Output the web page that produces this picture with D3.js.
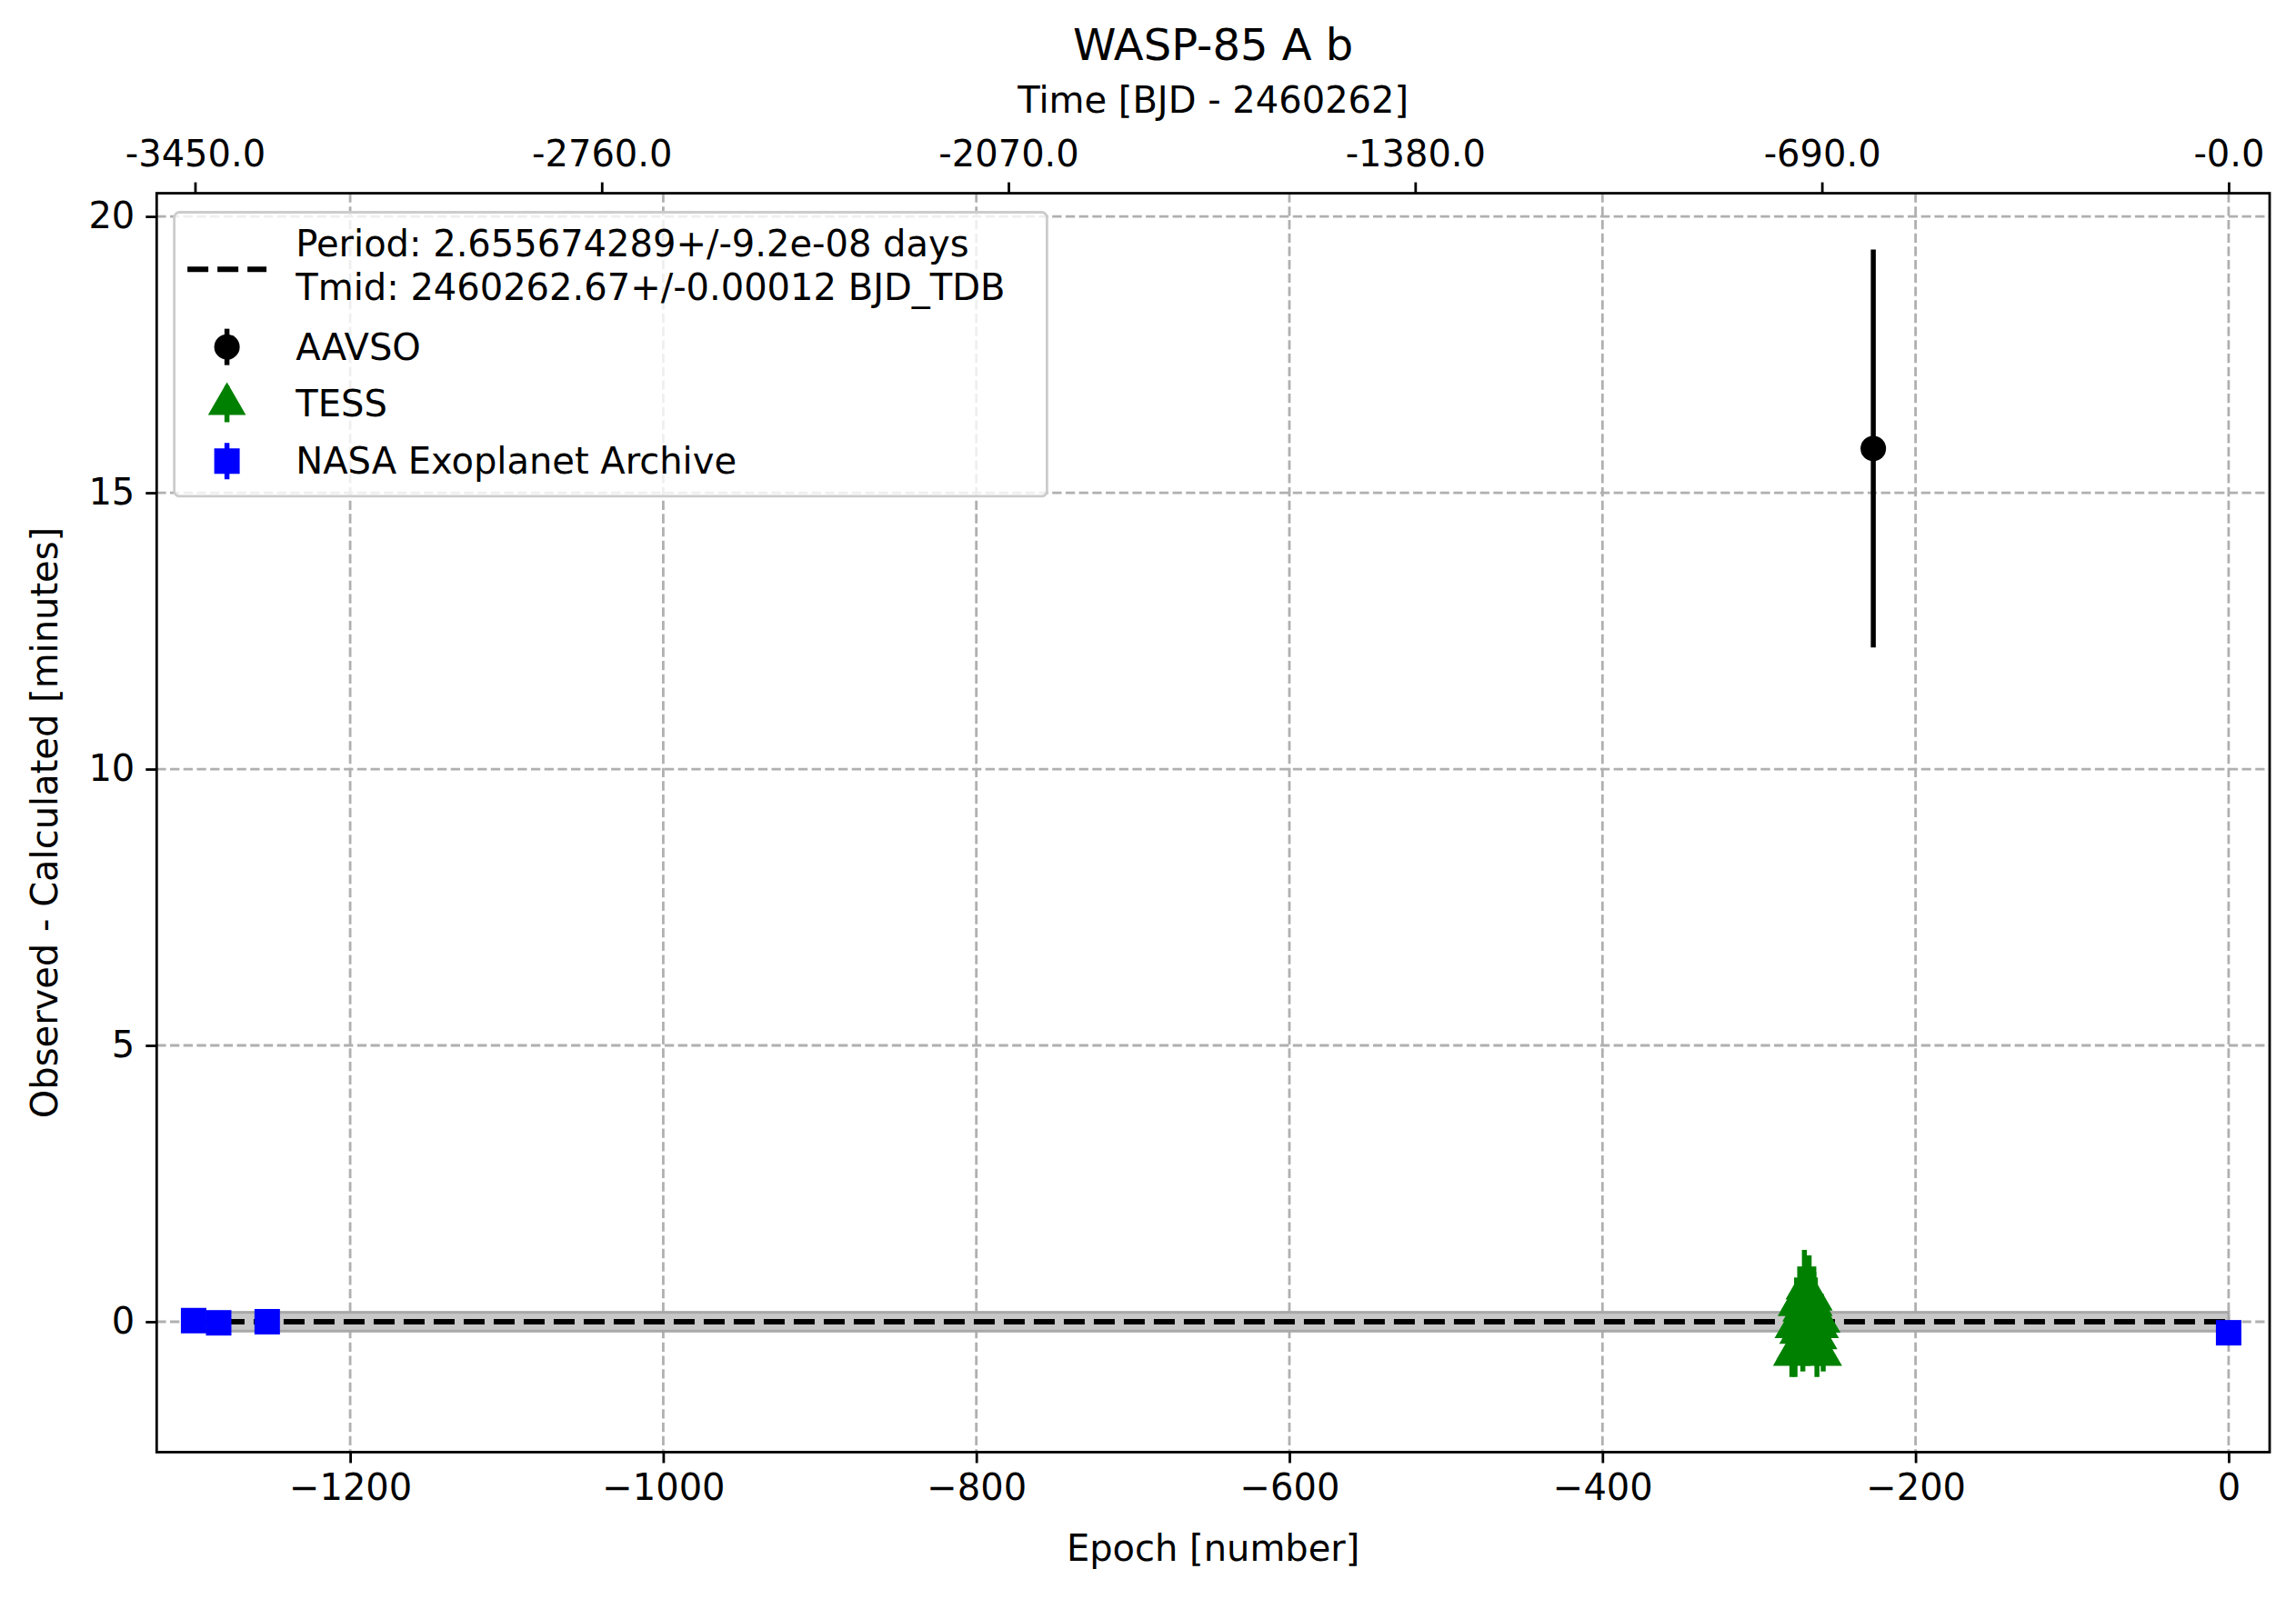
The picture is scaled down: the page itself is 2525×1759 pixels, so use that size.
<!DOCTYPE html>
<html><head><meta charset="utf-8">
<script src="https://cdn.jsdelivr.net/npm/d3@7"></script>
<style>body{margin:0;background:#fff}svg{font-family:"DejaVu Sans",sans-serif}</style>
</head><body>
<svg id="c" width="2525" height="1759"></svg>
<script>
const period = 2.655674289;
const aavsoEpoch = [-227], aavsoOC = [15.8], aavsoErr = [3.6];
const tessEpoch = [-279,-278,-277,-276,-275,-274,-273,-272,-271,-270,-269,-268,-267,-266,-265,-264,-263,-262,-261,-260,-259,-273,-268,-265];
const tessOC    = [-0.6,-0.1,-0.5,0.3,-0.2,0.4,0.1,-0.3,0.6,0.2,-0.1,0.5,0.3,-0.2,0.4,0.1,-0.5,-0.3,-0.1,0.0,-0.6,0.2,0.0,0.3];
const tessErr   = [0.4,0.4,0.5,0.5,0.5,0.6,0.5,0.6,0.7,0.5,0.6,0.7,0.6,0.5,0.6,0.7,0.5,0.5,0.4,0.5,0.3,0.6,0.5,0.6];
const nasaEpoch = [-1300,-1284,-1253,0];
const nasaOC    = [0.02,-0.02,0.0,-0.2];
const nasaErr   = [0.05,0.05,0.05,0.1];
const xTicks = [-1200,-1000,-800,-600,-400,-200,0];
const yTicks = [0,5,10,15,20];
const topTicks = [-3450,-2760,-2070,-1380,-690,0];
const topLabels = ["-3450.0","-2760.0","-2070.0","-1380.0","-690.0","-0.0"];
const bandHalf = 0.17;
const legendLines = ["Period: 2.655674289+/-9.2e-08 days","Tmid: 2460262.67+/-0.00012 BJD_TDB"];
const legendNames = ["AAVSO","TESS","NASA Exoplanet Archive"];
const legendColors = ["black","green","blue"];

const s = 2525/1568;
const svg = d3.select("#c");
const L=107*s, R=1550*s, T=132*s, B=992*s;
const x = d3.scaleLinear().domain([-1323.6,26.2]).range([L,R]);
const y = d3.scaleLinear().domain([-2.36,20.42]).range([B,T]);
const fs = 40;
const tri = d3.symbol(d3.symbolTriangle, 750)();

const g = svg.append("g");
xTicks.forEach(t=>g.append("line").attr("x1",x(t)).attr("x2",x(t)).attr("y1",T).attr("y2",B).attr("stroke","#b0b0b0").attr("stroke-width",2.8).attr("stroke-dasharray","10.3,4.4"));
yTicks.forEach(t=>g.append("line").attr("x1",L).attr("x2",R).attr("y1",y(t)).attr("y2",y(t)).attr("stroke","#b0b0b0").attr("stroke-width",2.8).attr("stroke-dasharray","10.3,4.4"));

const ex=[-1300,0];
svg.append("rect").attr("x",x(ex[0])).attr("width",x(ex[1])-x(ex[0])).attr("y",y(bandHalf)).attr("height",y(-bandHalf)-y(bandHalf)).attr("fill","#c8c8c8").attr("stroke","#a8a8a8").attr("stroke-width",3);
svg.append("line").attr("x1",x(ex[0])).attr("x2",x(ex[1])).attr("y1",y(0)).attr("y2",y(0)).attr("stroke","black").attr("stroke-width",6).attr("stroke-dasharray","23,10");

function errbars(ep,oc,er,col){
  ep.forEach((e,i)=>svg.append("line").attr("x1",x(e)).attr("x2",x(e)).attr("y1",y(oc[i]+er[i])).attr("y2",y(oc[i]-er[i])).attr("stroke",col).attr("stroke-width",5.5));
}
errbars(tessEpoch,tessOC,tessErr,"green");
tessEpoch.forEach((e,i)=>svg.append("path").attr("d",tri).attr("transform",`translate(${x(e)},${y(tessOC[i])})`).attr("fill","green"));
errbars(nasaEpoch,nasaOC,nasaErr,"blue");
nasaEpoch.forEach((e,i)=>svg.append("rect").attr("x",x(e)-14).attr("y",y(nasaOC[i])-14).attr("width",28).attr("height",28).attr("fill","blue"));
errbars(aavsoEpoch,aavsoOC,aavsoErr,"black");
aavsoEpoch.forEach((e,i)=>svg.append("circle").attr("cx",x(e)).attr("cy",y(aavsoOC[i])).attr("r",14).attr("fill","black"));

svg.append("rect").attr("x",L).attr("y",T).attr("width",R-L).attr("height",B-T).attr("fill","none").attr("stroke","black").attr("stroke-width",2.8);

const ax=d3.axisBottom(x).tickValues(xTicks).tickFormat(d=>d3.format("d")(d).replace("-","\u2212")).tickSize(12).tickPadding(12);
svg.append("g").attr("transform",`translate(0,${B})`).call(ax);
const ay=d3.axisLeft(y).tickValues(yTicks).tickFormat(d3.format("d")).tickSize(12).tickPadding(12);
svg.append("g").attr("transform",`translate(${L},0)`).call(ay);
const xt=d3.scaleLinear().domain(x.domain().map(d=>d*period)).range([L,R]);
const at=d3.axisTop(xt).tickValues(topTicks).tickFormat((d,i)=>topLabels[i]).tickSize(12).tickPadding(18);
svg.append("g").attr("transform",`translate(0,${T})`).call(at);
svg.selectAll(".domain").remove();
svg.selectAll(".tick line").attr("stroke-width",2.8);
svg.selectAll(".tick text").attr("font-size",fs).attr("font-family","DejaVu Sans").attr("fill","black");

svg.append("text").attr("x",(L+R)/2).attr("y",1066*s).attr("text-anchor","middle").attr("font-size",fs).text("Epoch [number]");
svg.append("text").attr("x",(L+R)/2).attr("y",77*s).attr("text-anchor","middle").attr("font-size",fs).text("Time [BJD - 2460262]");
svg.append("text").attr("x",(L+R)/2).attr("y",41*s).attr("text-anchor","middle").attr("font-size",48).text("WASP-85 A b");
svg.append("text").attr("transform",`translate(${39*s},${(T+B)/2}) rotate(-90)`).attr("text-anchor","middle").attr("font-size",fs).text("Observed - Calculated [minutes]");

const lg=svg.append("g");
lg.append("rect").attr("x",119*s).attr("y",145*s).attr("width",596*s).attr("height",194*s).attr("rx",6).attr("fill","white").attr("fill-opacity",0.8).attr("stroke","#cccccc").attr("stroke-width",2.8);
lg.append("line").attr("x1",128*s).attr("x2",182*s).attr("y1",184*s).attr("y2",184*s).attr("stroke","black").attr("stroke-width",6).attr("stroke-dasharray","23,10");
legendLines.forEach((t,i)=>lg.append("text").attr("x",202*s).attr("y",(175+30*i)*s).attr("font-size",fs).text(t));
legendNames.forEach((t,i)=>{
  const yy=(237+39*i)*s, cx=155*s;
  lg.append("line").attr("x1",cx).attr("x2",cx).attr("y1",yy-20).attr("y2",yy+20).attr("stroke",legendColors[i]).attr("stroke-width",5.5);
  if(i==0) lg.append("circle").attr("cx",cx).attr("cy",yy).attr("r",14).attr("fill","black");
  if(i==1) lg.append("path").attr("d",tri).attr("transform",`translate(${cx},${yy})`).attr("fill","green");
  if(i==2) lg.append("rect").attr("x",cx-14).attr("y",yy-14).attr("width",28).attr("height",28).attr("fill","blue");
  lg.append("text").attr("x",202*s).attr("y",yy+14).attr("font-size",fs).text(t);
});
</script>
</body></html>
